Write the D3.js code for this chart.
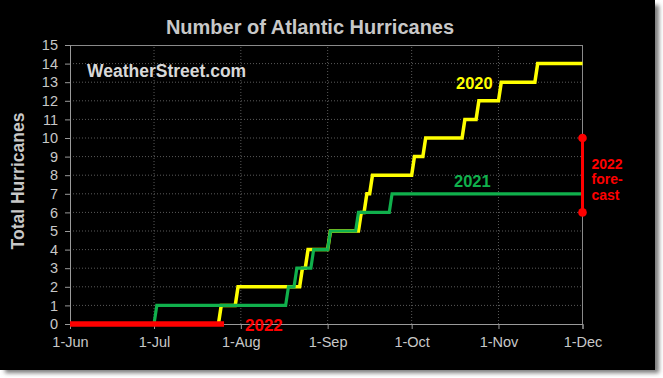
<!DOCTYPE html>
<html>
<head>
<meta charset="utf-8">
<script src="https://cdn.jsdelivr.net/npm/d3@7"></script>
<style>
html,body{margin:0;padding:0;background:#fff;}
svg{display:block;}
text{font-family:"Liberation Sans",Arial,sans-serif;}
</style>
</head>
<body>
<svg id="chart" width="663" height="378"></svg>
<script>
// ---- data ----
const monthTicks = ["06-01","07-01","08-01","09-01","10-01","11-01","12-01"];
const monthLabels = ["1-Jun","1-Jul","1-Aug","1-Sep","1-Oct","1-Nov","1-Dec"];
const yTickValues = [0,1,2,3,4,5,6,7,8,9,10,11,12,13,14,15];
// dates on which the cumulative count increased by one
const hurricanes2020 = ["07-25","07-31","08-23","08-25","09-02","09-13","09-15","09-17","10-02","10-06","10-20","10-25","11-02","11-15"];
const hurricanes2021 = ["07-02","08-18","08-21","08-27","09-02","09-12","09-24"];
const hurricanes2022 = [];
const latest2022 = "07-26";
const forecast2022 = [6, 10];
const seasonStart = "06-01", seasonEnd = "12-01";

// ---- helpers ----
const parse = s => d3.timeParse("%Y-%m-%d")("2001-" + s);
const svg = d3.select("#chart");
const W = 663, H = 378;

// frame with shadow
const defs = svg.append("defs");
defs.append("filter").attr("id","blur").attr("x","-5%").attr("y","-5%").attr("width","110%").attr("height","110%")
  .append("feGaussianBlur").attr("stdDeviation", 2);
svg.append("rect").attr("x",5).attr("y",5).attr("width",654).attr("height",368).attr("fill","#7a7a7a").attr("filter","url(#blur)");
svg.append("rect").attr("x",0).attr("y",0).attr("width",655).attr("height",370).attr("fill","#000");

const x = d3.scaleTime().domain([parse(seasonStart), parse(seasonEnd)]).range([70, 582.5]);
const y = d3.scaleLinear().domain([0, 15]).range([324, 45]);

// grid
const grid = svg.append("g");
grid.selectAll("line.h").data(yTickValues.slice(1, -1)).join("line")
  .attr("x1", x.range()[0]).attr("x2", x.range()[1])
  .attr("y1", d => y(d)).attr("y2", d => y(d))
  .attr("stroke", "#5a5a5a").attr("stroke-width", 1).attr("stroke-dasharray", "1,2");
grid.selectAll("line.v").data(monthTicks.slice(1, -1)).join("line")
  .attr("x1", d => x(parse(d))).attr("x2", d => x(parse(d)))
  .attr("y1", y(0)).attr("y2", y(15))
  .attr("stroke", "#5a5a5a").attr("stroke-width", 1).attr("stroke-dasharray", "1,2");

// border lines (top and right)
svg.append("line").attr("x1", x.range()[0]).attr("x2", x.range()[1]).attr("y1", y(15)+0.5).attr("y2", y(15)+0.5).attr("stroke","#8a8a8a");
svg.append("line").attr("x1", x.range()[1]).attr("x2", x.range()[1]).attr("y1", y(15)).attr("y2", y(0)).attr("stroke","#8a8a8a");

// axes
const yAxis = d3.axisLeft(y).tickValues(yTickValues).tickSize(5).tickPadding(7).tickFormat(d3.format("d"));
const gy = svg.append("g").attr("transform", `translate(${x.range()[0]},0)`).call(yAxis);
const xAxis = d3.axisBottom(x).tickValues(monthTicks.map(parse)).tickSize(5).tickPadding(8)
  .tickFormat((d, i) => monthLabels[i]);
const gx = svg.append("g").attr("transform", `translate(0,${y(0)})`).call(xAxis);
[gx, gy].forEach(g => {
  g.select(".domain").attr("stroke", "#9a9a9a");
  g.selectAll(".tick line").attr("stroke", "#9a9a9a");
  g.selectAll(".tick text").attr("fill", "#c8c8c8").style("font-size", "14.5px")
    .style("font-family", '"Liberation Sans",Arial,sans-serif');
});

// series
function cumulative(dates, endStr) {
  const pts = [[parse(seasonStart), 0]];
  dates.forEach((s, i) => {
    const d = parse(s);
    pts.push([d3.timeDay.offset(d, -1), i], [d, i + 1]);
  });
  pts.push([parse(endStr), dates.length]);
  return pts;
}
const line = d3.line().x(d => x(d[0])).y(d => y(d[1]));
svg.append("path").datum(cumulative(hurricanes2020, seasonEnd)).attr("d", line)
  .attr("fill", "none").attr("stroke", "#ffff00").attr("stroke-width", 3.5);
svg.append("path").datum(cumulative(hurricanes2021, seasonEnd)).attr("d", line)
  .attr("fill", "none").attr("stroke", "#10b04c").attr("stroke-width", 3.2);
svg.append("path").datum(cumulative(hurricanes2022, latest2022)).attr("d", line)
  .attr("fill", "none").attr("stroke", "#ff0000").attr("stroke-width", 5.5);

// forecast range
const fx = x(parse(seasonEnd));
svg.append("line").attr("x1", fx).attr("x2", fx).attr("y1", y(forecast2022[0])).attr("y2", y(forecast2022[1]))
  .attr("stroke", "#ff0000").attr("stroke-width", 3);
svg.selectAll("circle.f").data(forecast2022).join("circle")
  .attr("cx", fx).attr("cy", d => y(d)).attr("r", 4.3).attr("fill", "#ff0000");
const ft = svg.append("text").attr("fill", "#ff0000").style("font-size", "14px").style("font-weight", "bold");
["2022", "fore-", "cast"].forEach((t, i) => {
  ft.append("tspan").attr("x", 591.5).attr("y", 168.5 + i * 15.5).text(t);
});

// labels
svg.append("text").attr("x", 456).attr("y", 88.5).attr("fill", "#ffff00")
  .style("font-size", "16.5px").style("font-weight", "bold").text("2020");
svg.append("text").attr("x", 454).attr("y", 186.5).attr("fill", "#10b04c")
  .style("font-size", "16.5px").style("font-weight", "bold").text("2021");
svg.append("text").attr("x", 245).attr("y", 331).attr("fill", "#ff0000")
  .style("font-size", "17px").style("font-weight", "bold").text("2022");

svg.append("text").attr("x", 87).attr("y", 76.5).attr("fill", "#d8d8d8")
  .style("font-size", "17.5px").style("font-weight", "bold").text("WeatherStreet.com");

svg.append("text").attr("x", 310).attr("y", 33.5).attr("text-anchor", "middle").attr("fill", "#c8c8c8")
  .style("font-size", "20px").style("font-weight", "bold").text("Number of Atlantic Hurricanes");

svg.append("text").attr("transform", "translate(24,181) rotate(-90)").attr("text-anchor", "middle")
  .attr("fill", "#c8c8c8").style("font-size", "17.5px").style("font-weight", "bold").text("Total Hurricanes");
</script>
</body>
</html>
